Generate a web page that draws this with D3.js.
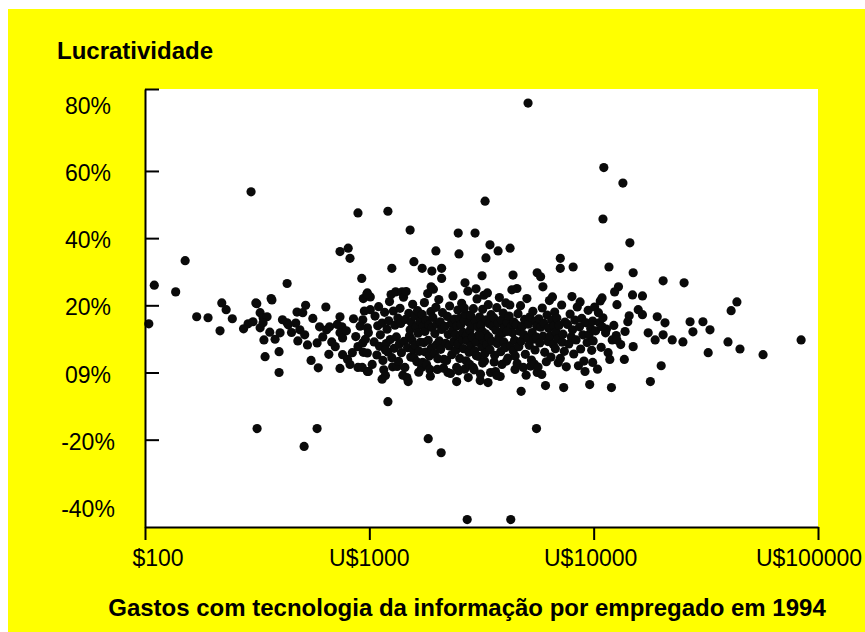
<!DOCTYPE html>
<html>
<head>
<meta charset="utf-8">
<script src="https://cdn.jsdelivr.net/npm/d3@7"></script>
<style>
  html, body { margin: 0; padding: 0; background: #ffffff; }
  svg { display: block; }
  text { font-family: "Liberation Sans", Arial, sans-serif; fill: #000; }
</style>
</head>
<body>
<svg id="chart" width="865" height="632"></svg>
<script>
// ---------- DATA: [gasto em TI por empregado (US$), lucratividade (%)] ----------
const pontosAltos = [
  [5100,80.2],[11100,61],[13500,56.4],[297,53.8],[3280,51],[1210,48],[890,47.5],[11000,45.7],
  [1520,42.4],[2490,41.5],[2960,41.5],[14500,38.6],[3450,38],[4240,37],[805,37],[740,36],
  [1980,36.2],[3750,36.2],[2510,35.3],[820,34],[7100,34],[3310,34.1],[151,33.3],[1580,33],
  [1720,31],[1260,31],[7100,31],[8100,31.4],[11700,31.4],[1900,30.2],[2100,31],[2100,28],
  [5600,29.7],[5800,28.5],[15000,29.7],[925,28],[3180,28.8],[4370,29],[20400,27.3],[25300,26.7],
  [110,26],[430,26.5],[2670,26.7],[1885,25.5],[4550,25],[5940,25.5],[137,24],[43500,21],
  [41000,18.4],[980,23.7],[940,22],[365,22],[220,20.7],[312,20.7],[520,20],[640,19.5]
];
const pontosBaixos = [
  [104,14.5],[170,16.6],[191,16.3],[216,12.4],[339,9.7],[343,4.7],[396,6.2],[396,0],
  [592,1.4],[316,-16.7],[585,-16.7],[512,-22],[1210,-8.7],[1830,-19.7],[2090,-23.9],[5560,-16.7],
  [2730,-43.8],[4270,-43.8],[4750,-5.6],[84100,9.7],[56900,5.3],[44900,7],[39700,9.1],[32400,5.9],
  [20000,2],[17900,-2.7],[12000,-4.5],[9600,-3.6]
];
const faixa100a1000 = [
  [245,16],[288,14.5],[303,15.1],[326,17.8],[336,16.3],[350,16.6],[326,13.3],[336,14.8],
  [315,20.5],[368,21.6],[380,9.9],[400,11.8],[430,14.8],[435,14.2],[476,18],[505,17.8],
  [490,12.7],[515,11.2],[530,8.2],[585,8.8],[600,13.6],[645,12.7],[665,13.6],[480,9.4],
  [740,16.6],[755,13.6],[740,11.8],[760,10.3],[705,7.7],[760,5.3],[840,5.9],[890,7.7],
  [935,8.8],[740,1.2],[820,2.4],[890,1.5],[980,0.3],[935,15.7],[980,13.3],[1010,18.7],[990,11.8],
  [230,18.7],[275,13.0],[360,12.0],[410,15.7],[450,11.9],[470,14.7],[560,16.1],[620,10.6],
  [680,9.1],[720,14.3],[790,12.4],[850,16.0],[870,10.7],[910,13.8],[950,18.3],[960,9.9],
  [940,6.0],[800,3.9],[660,5.4],[550,3.6]
];
const faixa1000a1700 = [
  [1010,22.5],[1030,2.4],[1050,9.1],[1060,16.8],[1080,5.2],[1090,13.9],[1100,19.6],[1110,7.8],
  [1120,11.2],[1140,14.7],[1150,3.6],[1160,0.8],[1170,17.9],[1190,8.6],[1200,12.9],[1210,6.1],
  [1220,15.4],[1230,21.1],[1240,9.8],[1250,23.2],[1260,4.4],[1270,1.7],[1280,18.3],[1290,7.2],
  [1300,14.1],[1180,6.7],[1140,-2],[1180,-0.9],[1310,24],[1400,24],[975,23.4],[980,5.8],
  [930,1.5],[990,0.3],
  [1320,10.6],[1330,1.8],[1340,16.2],[1350,3.3],[1360,8.4],[1370,19.1],[1380,14.6],[1390,5.9],
  [1410,-0.8],[1420,22.4],[1430,9.3],[1440,1.5],[1450,15.8],[1460,24.1],[1470,-1.5],[1480,7.4],
  [1490,-2.7],[1500,17.6],[1510,10.9],[1520,12.7],[1530,4.6],[1540,14.9],[1550,9.7],[1560,20.3],
  [1570,6.8],[1580,4.4],[1590,16.9],[1600,8.1],[1620,13.6],[1630,3.2],[1640,18.4],[1650,11.7],
  [1660,0.1],[1670,6.3],[1680,15.2],[1690,9.0]
];
const faixa1700a2800 = [
  [1710,1.5],[1720,17.3],[1730,3.0],[1740,13.8],[1750,8.9],[1760,20.8],[1770,12.2],[1780,6.1],
  [1790,15.6],[1800,2.4],[1820,23.5],[1830,9.6],[1840,14.2],[1850,4.9],[1860,0.9],[1870,-1.1],
  [1880,18.1],[1890,7.3],[1900,13.4],[1920,16.4],[1930,24.8],[1950,5.6],[1960,11.6],[1980,19.4],
  [1990,8.2],[2000,14.4],[2010,0.9],[2020,4.1],[2040,21.7],[2050,9.4],[2070,15.1],[2080,6.9],
  [2100,12.8],[2120,17.8],[2140,1.3],[2150,3.9],[2170,13.7],[2190,8.7],
  [2210,3.6],[2230,16.7],[2240,0],[2250,11.3],[2270,7.9],[2280,19.8],[2300,-0.3],[2320,14.6],
  [2330,5.3],[2350,12.4],[2360,22.8],[2380,9.2],[2400,15.9],[2420,11.3],[2430,6.6],[2450,1.5],
  [2450,-2.7],[2460,13.9],[2480,18.6],[2490,8.5],[2500,0.5],[2520,16.1],[2530,4.2],[2550,10.9],
  [2560,14.3],[2580,20.6],[2600,9.8],[2610,12.0],[2630,7.1],[2650,15.4],[2660,1.0],[2680,17.4],
  [2700,3.5],[2710,11.0],[2730,9.5],[2750,24.2],[2760,-1.5],[2780,6.0],[2790,14.8],[2650,19.2]
];
const faixa2800a4500 = [
  [2800,2.4],[2810,12.5],[2830,17.0],[2840,8.0],[2860,14.0],[2880,10.5],[2900,1.5],[2910,19.0],
  [2930,0.8],[2950,6.4],[2970,15.3],[2990,24.9],[3000,9.0],[3020,21.9],[3040,13.6],[3060,4.8],
  [3080,11.2],[3100,16.5],[3120,-2.4],[3130,-0.5],[3150,14.1],[3170,7.6],[3190,12.2],[3200,18.8],
  [3220,9.7],[3240,23.0],[3260,3.4],[3280,5.7],[3300,11.5],[3320,15.7],[3340,8.3],[3360,23.7],
  [3380,-3],[3390,20.2],[3410,10.6],[3430,14.5],[3450,6.8],[3470,0.0],[3490,17.2],[3000,5.0],
  [3100,11.0],[3200,2.8],
  [3520,9.3],[3550,13.8],[3580,16.3],[3600,3.1],[3620,5.1],[3650,0.3],[3670,12.6],[3700,19.3],
  [3720,8.6],[3750,14.7],[3780,10.4],[3800,22.3],[3830,-1.2],[3850,6.2],[3880,15.6],[3900,2.4],
  [3920,11.7],[3950,17.7],[3980,9.1],[4000,13.3],[4030,7.4],[4060,20.7],[4090,3.4],[4120,14.9],
  [4150,4.3],[4180,12.4],[4200,16.8],[4230,20.1],[4260,8.0],[4290,13.6],[4320,24.6],[4350,11.8],
  [4380,6.5],[4410,15.0],[4440,9.6],[4470,4.9],[3700,-0.9],[4100,12.2]
];
const faixa4500a7500 = [
  [4460,0.9],[4520,14.2],[4560,2.7],[4600,17.5],[4640,7.7],[4680,12.3],[4720,19.9],[4760,9.4],
  [4800,13.7],[4860,1.5],[4880,11.3],[4920,15.8],[4960,5.4],[5000,-0.8],[5040,22.0],[5080,10.3],
  [5120,14.4],[5160,8.1],[5200,16.6],[5240,1.9],[5280,3.7],[5320,11.9],[5360,18.2],[5400,9.9],
  [5440,2.5],[5480,6.7],[5520,15.2],[5560,10.5],[5600,0],[5580,13.8],
  [5650,1.6],[5700,16.0],[5750,8.8],[5800,13.5],[5870,-0.6],[5900,19.2],[5950,10.8],[6000,14.6],
  [6050,6.0],[6100,-3.9],[6150,3.2],[6200,17.1],[6250,9.2],[6300,13.2],[6350,21.4],[6400,10.9],
  [6450,4.6],[6500,15.5],[6550,22.5],[6600,8.4],[6650,13.9],[6700,18.0],[6750,7.1],[6800,12.0],
  [6850,16.2],[6900,10.0],[6950,2.9],[7000,14.0],[7100,4.2],[7200,20.1],[7250,9.0],[7300,11.4],
  [7350,-4.5],[7400,6.3],[7450,15.0]
];
const faixa7500a100000 = [
  [7550,1.7],[7650,14.3],[7750,8.5],[7850,17.4],[7950,10.6],[8050,12.7],[8150,5.5],[8250,15.6],
  [8350,9.7],[8450,19.5],[8550,2.0],[8650,13.6],[8750,7.0],[8850,16.1],[8950,11.2],[9050,3.4],
  [9150,0.3],[9250,14.8],[9350,8.9],[9450,18.5],[9550,11.3],[9700,13.1],[9800,6.6],[9900,15.3],
  [9950,9.4],[8000,22.6],[8700,21.0],
  [10200,12.4],[10400,1.0],[10600,14.8],[10800,7.5],[11000,16.3],[11400,12.9],[11600,5.9],
  [12300,14.0],[12600,11.0],[13200,8.3],[13800,12.2],[14400,16.9],[10100,19.5],[10700,21.3],
  [33000,12.7],[30700,15.1],[26900,15.1],[27700,12.1],[25000,9.1],[20800,14.8],[19200,16.6],
  [15800,18.7],[16500,17.2],[14200,15.1],[12700,20.2],[10500,17.8],[17500,11.8],[18800,9.7],
  [20400,11.2],[22400,9.7],[12100,9.7],[11300,11.8],[12700,9.7],[10900,13.6],[15000,7.7],
  [13700,3.9],[11800,3.9],[9900,3.0],[12900,25.5],[12400,24],[10900,22.2],[14900,23.1],[16500,22.8]
];

const rotulosX = ["$100", "U$1000", "U$10000", "U$100000"];
const valoresX = [100, 1000, 10000, 100000];
const valoresY = [80, 60, 40, 20, 0, -20, -40];
const rotulosY = ["80%", "60%", "40%", "20%", "09%", "-20%", "-40%"];
const marcasY = [84.4, 60, 40, 20, 0, -20];

const tituloY = "Lucratividade";
const tituloX = "Gastos com tecnologia da informação por empregado em 1994";

// ---------- CHART ----------
const svg = d3.select("#chart");
const W = 865, H = 632;
const plot = { left: 145, right: 818, top: 89, bottom: 527 };

svg.append("rect").attr("x", 8).attr("y", 9).attr("width", W - 8).attr("height", H - 9).attr("fill", "#ffff00");
svg.append("rect").attr("x", plot.left).attr("y", plot.top)
  .attr("width", plot.right - plot.left).attr("height", plot.bottom - plot.top).attr("fill", "#ffffff");

const x = d3.scaleLog().domain([100, 100000]).range([plot.left, plot.right]);
const y = d3.scaleLinear().domain([-46, 84.4]).range([plot.bottom, plot.top]);

const todos = [].concat(pontosAltos, pontosBaixos, faixa100a1000, faixa1000a1700,
  faixa1700a2800, faixa2800a4500, faixa4500a7500, faixa7500a100000);

svg.append("g").selectAll("circle").data(todos).join("circle")
  .attr("cx", d => x(d[0])).attr("cy", d => y(d[1])).attr("r", 4.6).attr("fill", "#0a0a0a");

// Y axis
const gy = svg.append("g").attr("transform", `translate(${plot.left},0)`)
  .call(d3.axisLeft(y).tickValues(marcasY).tickSizeInner(-14).tickSizeOuter(0).tickFormat(""));
gy.selectAll("path, line").attr("stroke", "#000").attr("stroke-width", 2);

// X axis
const gx = svg.append("g").attr("transform", `translate(0,${plot.bottom})`)
  .call(d3.axisBottom(x).tickValues(valoresX).tickSizeInner(13).tickSizeOuter(0).tickFormat(""));
gx.selectAll("path, line").attr("stroke", "#000").attr("stroke-width", 2);

// Y labels
svg.append("g").selectAll("text").data(valoresY).join("text")
  .attr("x", 88).attr("y", d => y(d) + 2).attr("dy", "0.35em")
  .attr("text-anchor", "middle").attr("font-size", 23)
  .text((d, i) => rotulosY[i]);

// X labels
const dxX = [13, 0, -3, -9];
svg.append("g").selectAll("text").data(valoresX).join("text")
  .attr("x", (d, i) => x(d) + dxX[i]).attr("y", 566)
  .attr("text-anchor", "middle").attr("font-size", 23)
  .text((d, i) => rotulosX[i]);

svg.append("text").attr("x", 57).attr("y", 59).attr("font-size", 24).attr("font-weight", "bold").text(tituloY);
svg.append("text").attr("x", 467).attr("y", 616).attr("text-anchor", "middle")
  .attr("font-size", 24).attr("font-weight", "bold").text(tituloX);
</script>
</body>
</html>
